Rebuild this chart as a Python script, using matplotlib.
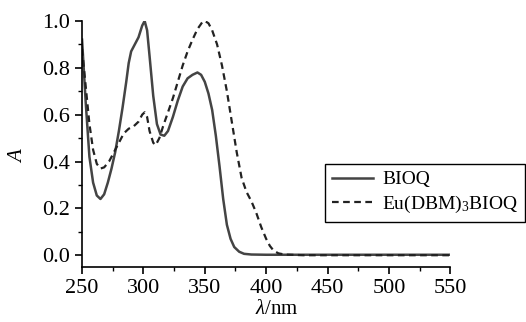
import matplotlib
matplotlib.use('Agg')
import matplotlib.pyplot as plt
from matplotlib.ticker import MultipleLocator

# absorption spectra
wl_bioq = [250, 253, 256, 259, 262, 265, 268, 271, 274, 277, 280, 283, 286, 288,
           290, 293, 296, 299, 301, 303, 305, 308, 311, 314, 317, 320, 324, 328,
           332, 336, 340, 344, 347, 350, 353, 356, 359, 362, 365, 368, 371, 374,
           378, 382, 388, 400, 450, 500, 550]
a_bioq = [0.92, 0.65, 0.42, 0.31, 0.255, 0.24, 0.26, 0.31, 0.37, 0.44, 0.53, 0.63,
          0.74, 0.82, 0.87, 0.90, 0.93, 0.98, 1.00, 0.96, 0.85, 0.68, 0.56, 0.515,
          0.51, 0.53, 0.59, 0.66, 0.72, 0.755, 0.77, 0.78, 0.77, 0.74, 0.69, 0.62,
          0.51, 0.38, 0.24, 0.13, 0.07, 0.035, 0.015, 0.006, 0.003, 0.002, 0.002,
          0.002, 0.002]

wl_eu = [250, 253, 256, 259, 262, 265, 268, 272, 276, 280, 284, 288, 292, 296,
         299, 301, 303, 305, 308, 310, 313, 316, 320, 324, 328, 332, 336, 340,
         344, 348, 350, 353, 356, 360, 364, 368, 372, 376, 380, 384, 388, 392,
         396, 400, 403, 406, 410, 415, 430, 550]
a_eu = [0.88, 0.72, 0.56, 0.45, 0.39, 0.37, 0.375, 0.40, 0.44, 0.48, 0.52, 0.54,
        0.55, 0.57, 0.60, 0.61, 0.59, 0.53, 0.48, 0.47, 0.50, 0.55, 0.61, 0.67,
        0.74, 0.81, 0.87, 0.92, 0.965, 0.995, 1.00, 0.99, 0.96, 0.90, 0.81, 0.70,
        0.57, 0.44, 0.33, 0.27, 0.23, 0.18, 0.12, 0.07, 0.04, 0.02, 0.008, 0.003,
        0.0, 0.0]

plt.rc('font', family='Liberation Serif', size=16)
plt.rc('mathtext', fontset='custom', it='Liberation Serif:italic', rm='Liberation Serif')

fig = plt.figure(figsize=(5.26, 3.22), dpi=100)
ax = fig.add_axes([0.156, 0.171, 0.70, 0.764])

ax.plot(wl_bioq, a_bioq, color='#444444', lw=1.8, label='BIOQ')
ax.plot(wl_eu, a_eu, color='#222222', lw=1.6, ls=(0, (3, 2)), label='Eu(DBM)$_3$BIOQ')

ax.set_xlim(250, 550)
ax.set_ylim(-0.05, 1.0)
ax.set_xticks([250, 300, 350, 400, 450, 500, 550])
ax.set_yticks([0.0, 0.2, 0.4, 0.6, 0.8, 1.0])
ax.yaxis.set_major_formatter(matplotlib.ticker.FormatStrFormatter('%.1f'))
ax.xaxis.set_minor_locator(MultipleLocator(25))
ax.yaxis.set_minor_locator(MultipleLocator(0.1))
ax.tick_params(which='major', direction='out', length=5, width=1.2, labelsize=16)
ax.tick_params(which='minor', direction='out', length=3, width=1.0)

for s in ['top', 'right']:
    ax.spines[s].set_visible(False)
for s in ['left', 'bottom']:
    ax.spines[s].set_linewidth(1.2)

ax.set_ylabel('$\\mathit{A}$', fontsize=15)
ax.yaxis.set_label_coords(-0.15, 0.455)
ax.set_xlabel('$\\mathit{\\lambda}$/nm', fontsize=15)
ax.xaxis.set_label_coords(0.53, -0.135)

leg = ax.legend(loc='upper left', bbox_to_anchor=(0.618, 0.491),
                bbox_transform=fig.transFigure, borderaxespad=0,
                fancybox=False, edgecolor='black', framealpha=1,
                fontsize=14, handlelength=2.1, handletextpad=0.5,
                borderpad=0.35, labelspacing=0.3)
leg.get_frame().set_linewidth(1.0)

fig.savefig('out.png', dpi=100)
